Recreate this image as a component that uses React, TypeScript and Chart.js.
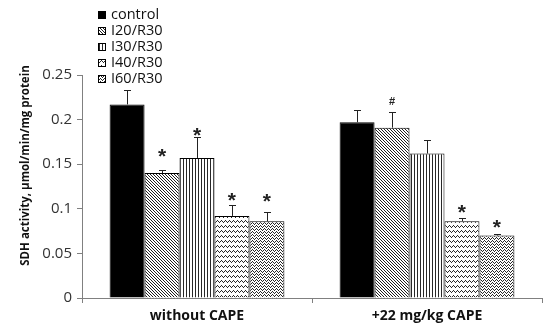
import React, { useEffect, useRef } from "react";
import { Chart, registerables } from "chart.js";

Chart.register(...registerables);

const categories = ["without CAPE", "+22 mg/kg CAPE"];
const seriesNames = ["control", "I20/R30", "I30/R30", "I40/R30", "I60/R30"];

const controlValues = [0.217, 0.197];
const i20Values = [0.14, 0.191];
const i30Values = [0.157, 0.162];
const i40Values = [0.092, 0.086];
const i60Values = [0.086, 0.07];

const controlErrors = [0.016, 0.014];
const i20Errors = [0.003, 0.017];
const i30Errors = [0.023, 0.015];
const i40Errors = [0.012, 0.004];
const i60Errors = [0.01, 0.002];

const markSymbols = [
  ["", ""],
  ["*", "#"],
  ["*", ""],
  ["*", "*"],
  ["*", "*"],
];
const markValues = [
  [0, 0],
  [0.164, 0.221],
  [0.188, 0],
  [0.115, 0.101],
  [0.114, 0.085],
];

const yMin = 0;
const yMax = 0.25;
const yStep = 0.05;
const yTitle = "SDH activity, µmol/min/mg protein";

const seriesValues = [controlValues, i20Values, i30Values, i40Values, i60Values];
const seriesErrors = [controlErrors, i20Errors, i30Errors, i40Errors, i60Errors];

function makePattern(w: number, h: number, dark: (x: number, y: number) => boolean, shade = 20) {
  const c = document.createElement("canvas");
  c.width = w;
  c.height = h;
  const ctx = c.getContext("2d")!;
  const img = ctx.createImageData(w, h);
  for (let y = 0; y < h; y++) {
    for (let x = 0; x < w; x++) {
      const i = (y * w + x) * 4;
      const v = dark(x, y) ? shade : 255;
      img.data[i] = v;
      img.data[i + 1] = v;
      img.data[i + 2] = v;
      img.data[i + 3] = 255;
    }
  }
  ctx.putImageData(img, 0, 0);
  return ctx.createPattern(c, "repeat") as CanvasPattern;
}

function buildFills() {
  const diag = makePattern(3, 3, (x, y) => x === y, 30);
  const vert = makePattern(3, 1, (x) => x === 0, 40);
  const wave1 = [1, 0, 1, 2];
  const zig = makePattern(4, 5, (x, y) => y === wave1[x], 40);
  const wave2 = [0, 1, 2, 1];
  const zig2 = makePattern(4, 3, (x, y) => y === wave2[x], 40);
  return ["#000000", diag, vert, zig, zig2];
}

const FONT = '"Open Sans", "DejaVu Sans", sans-serif';

export default function App() {
  const ref = useRef<HTMLCanvasElement | null>(null);

  useEffect(() => {
    const canvas = ref.current!;
    const fills = buildFills();

    const decorPlugin = {
      id: "decor",
      afterDatasetsDraw(chart: any) {
        const ctx = chart.ctx as CanvasRenderingContext2D;
        const yScale = chart.scales.y;
        ctx.save();
        ctx.strokeStyle = "#222";
        ctx.lineWidth = 1;
        chart.data.datasets.forEach((ds: any, di: number) => {
          const meta = chart.getDatasetMeta(di);
          meta.data.forEach((bar: any, i: number) => {
            const v = seriesValues[di][i];
            const e = seriesErrors[di][i];
            const x = Math.round(bar.x) + 0.5;
            const y0 = bar.y;
            const y1 = Math.round(yScale.getPixelForValue(v + e)) + 0.5;
            ctx.beginPath();
            ctx.moveTo(x, y0);
            ctx.lineTo(x, y1);
            ctx.moveTo(x - 3.5, y1);
            ctx.lineTo(x + 3.5, y1);
            ctx.stroke();
          });
        });
        ctx.fillStyle = "#222";
        ctx.textAlign = "center";
        ctx.textBaseline = "alphabetic";
        chart.data.datasets.forEach((ds: any, di: number) => {
          const meta = chart.getDatasetMeta(di);
          meta.data.forEach((bar: any, i: number) => {
            const s = markSymbols[di][i];
            if (!s) return;
            const yc = yScale.getPixelForValue(markValues[di][i]);
            if (s === "*") {
              ctx.font = 'bold 21px "Liberation Sans", sans-serif';
              ctx.fillText(s, bar.x, yc + 11.5);
            } else {
              ctx.font = 'bold 11px "Liberation Sans", sans-serif';
              ctx.fillText(s, bar.x, yc + 4);
            }
          });
        });
        ctx.restore();
      },
      afterDraw(chart: any) {
        const ctx = chart.ctx as CanvasRenderingContext2D;
        ctx.save();
        chart.data.datasets.forEach((ds: any, i: number) => {
          const cy = 15 + i * 16;
          ctx.fillStyle = ds.backgroundColor;
          ctx.fillRect(98, cy - 4, 8, 8);
          ctx.strokeStyle = "#000";
          ctx.lineWidth = 1;
          ctx.strokeRect(98.5, cy - 3.5, 7, 7);
          ctx.fillStyle = "#111";
          ctx.font = `14.5px ${FONT}`;
          ctx.textAlign = "left";
          ctx.textBaseline = "middle";
          ctx.fillText(ds.label, 111, cy);
        });
        const area = chart.chartArea;
        ctx.translate(26, (area.top + area.bottom) / 2 - 21);
        ctx.rotate(-Math.PI / 2);
        ctx.font = `bold 11.5px ${FONT}`;
        ctx.fillStyle = "#111";
        ctx.textAlign = "center";
        ctx.textBaseline = "middle";
        ctx.fillText(yTitle, 0, 0);
        ctx.restore();
      },
    };

    const chart = new Chart(canvas, {
      type: "bar",
      data: {
        labels: categories,
        datasets: seriesNames.map((name, i) => ({
          label: name,
          data: seriesValues[i],
          backgroundColor: fills[i] as any,
          borderColor: "#000",
          borderWidth: 1,
          categoryPercentage: 0.76,
          barPercentage: 1,
        })),
      },
      options: {
        responsive: false,
        animation: false,
        devicePixelRatio: 1,
        layout: { padding: { top: 75, right: 8, left: 0, bottom: 0 } },
        plugins: {
          legend: { display: false },
          tooltip: { enabled: false },
        },
        scales: {
          x: {
            grid: {
              display: true,
              drawOnChartArea: false,
              drawTicks: true,
              tickLength: 5,
              color: "#808080",
              offset: true,
            },
            border: { display: true, color: "#808080", width: 1 },
            ticks: {
              color: "#111",
              font: { family: FONT, size: 14, weight: "bold" },
              padding: 5,
            },
            afterFit(scale: any) {
              scale.height = 34;
            },
          },
          y: {
            min: yMin,
            max: yMax,
            grid: {
              display: true,
              drawOnChartArea: false,
              drawTicks: true,
              tickLength: 5,
              color: "#808080",
            },
            border: { display: true, color: "#808080", width: 1 },
            ticks: {
              stepSize: yStep,
              color: "#333",
              font: { family: FONT, size: 15 },
              padding: 5,
              callback: (v: any) => String(Number(Number(v).toFixed(2))),
            },
            afterFit(scale: any) {
              scale.width = 82;
            },
          },
        },
      },
      plugins: [decorPlugin],
    });
    return () => chart.destroy();
  }, []);

  return (
    <div style={{ position: "fixed", left: 0, top: 0, width: 550, height: 332, background: "#fff" }}>
      <canvas ref={ref} width={550} height={332} />
    </div>
  );
}
